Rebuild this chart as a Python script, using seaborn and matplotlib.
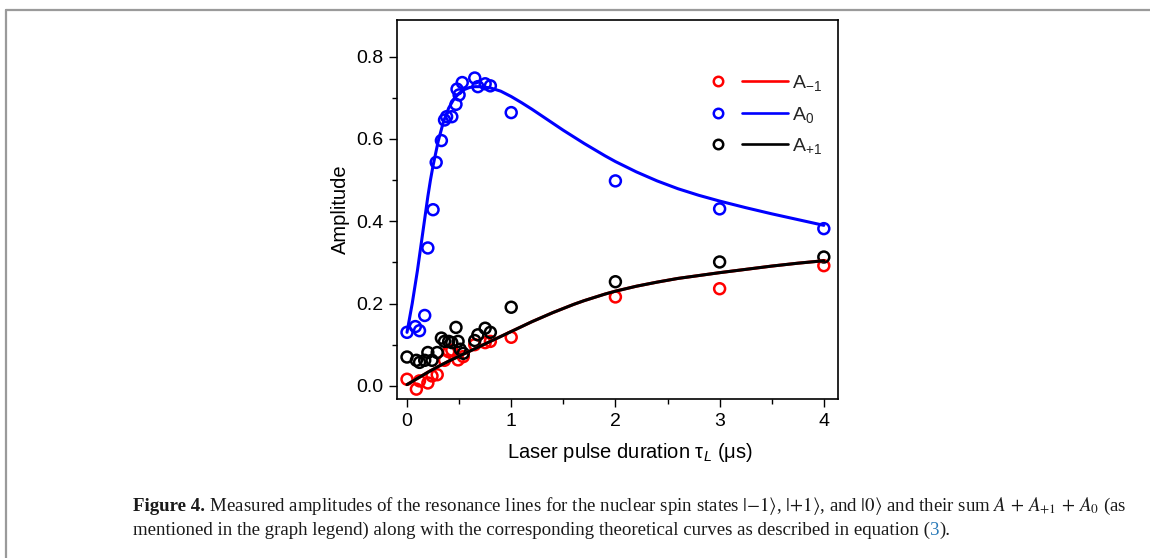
import matplotlib
matplotlib.use("Agg")
import numpy as np
import pandas as pd
import seaborn as sns
import matplotlib.pyplot as plt
from matplotlib.lines import Line2D
from matplotlib.legend_handler import HandlerTuple
from matplotlib.ticker import MultipleLocator

# ---------------- data ----------------
t_m1 = [0.0, 0.09, 0.12, 0.2, 0.24, 0.29, 0.36, 0.4, 0.43, 0.49, 0.54, 0.65, 0.75, 0.8, 1.0, 2.0, 3.0, 4.0]
a_m1 = [0.016, -0.008, 0.012, 0.007, 0.024, 0.027, 0.062, 0.083, 0.087, 0.063, 0.071, 0.100, 0.105, 0.108, 0.118, 0.216, 0.236, 0.292]

t_0 = [0.0, 0.08, 0.12, 0.17, 0.2, 0.25, 0.28, 0.33, 0.36, 0.38, 0.43, 0.47, 0.5, 0.48, 0.53, 0.65, 0.68, 0.75, 0.8, 1.0, 2.0, 3.0, 4.0]
a_0 = [0.130, 0.144, 0.134, 0.171, 0.335, 0.428, 0.543, 0.596, 0.646, 0.654, 0.654, 0.684, 0.707, 0.721, 0.737, 0.748, 0.727, 0.734, 0.729, 0.664, 0.498, 0.430, 0.382]

t_p1 = [0.0, 0.09, 0.12, 0.17, 0.2, 0.24, 0.29, 0.33, 0.36, 0.4, 0.43, 0.47, 0.49, 0.51, 0.54, 0.65, 0.68, 0.75, 0.8, 1.0, 2.0, 3.0, 4.0]
a_p1 = [0.070, 0.062, 0.057, 0.062, 0.081, 0.062, 0.081, 0.116, 0.108, 0.108, 0.105, 0.142, 0.108, 0.089, 0.079, 0.110, 0.124, 0.140, 0.130, 0.191, 0.253, 0.301, 0.313]

# theoretical curves
fit0_t = [0.0, 0.025, 0.05, 0.075, 0.1, 0.125, 0.15, 0.175, 0.2, 0.225, 0.25, 0.3, 0.35, 0.4, 0.45, 0.5,
          0.55, 0.6, 0.65, 0.7, 0.8, 0.9, 1.0, 1.1, 1.2, 1.3, 1.4, 1.5, 1.6, 1.7, 1.8, 1.9, 2.0,
          2.2, 2.4, 2.6, 2.8, 3.0, 3.25, 3.5, 3.75, 4.0]
fit0_a = [0.13, 0.165, 0.20, 0.24, 0.28, 0.325, 0.37, 0.415, 0.46, 0.50, 0.535, 0.595, 0.642, 0.675, 0.697, 0.711,
          0.720, 0.725, 0.727, 0.727, 0.724, 0.716, 0.703, 0.688, 0.672, 0.655, 0.638, 0.621, 0.605, 0.589, 0.574, 0.559, 0.545,
          0.520, 0.498, 0.479, 0.463, 0.449, 0.433, 0.418, 0.404, 0.390]
fit1_t = [0.0, 0.1, 0.2, 0.3, 0.4, 0.5, 0.6, 0.7, 0.8, 0.9, 1.0, 1.1, 1.2, 1.3, 1.4, 1.5, 1.6, 1.7, 1.8, 1.9, 2.0,
          2.2, 2.4, 2.6, 2.8, 3.0, 3.25, 3.5, 3.75, 4.0]
fit1_a = [0.003, 0.018, 0.033, 0.047, 0.060, 0.072, 0.084, 0.096, 0.108, 0.120, 0.132, 0.144, 0.156, 0.167, 0.178, 0.188,
          0.198, 0.207, 0.215, 0.223, 0.230, 0.242, 0.252, 0.261, 0.268, 0.275, 0.283, 0.291, 0.298, 0.304]

x_ticks = [0, 1, 2, 3, 4]
y_ticks = [0.0, 0.2, 0.4, 0.6, 0.8]
labels = [r"$\mathregular{A_{-1}}$", r"$\mathregular{A_{0}}$", r"$\mathregular{A_{+1}}$"]
colors = ["#ff0000", "#0000ff", "#000000"]

# ---------------- style ----------------
sns.set_theme(style="white")
plt.rcParams["font.family"] = ["Liberation Sans", "DejaVu Sans"]
plt.rcParams["mathtext.fontset"] = "custom"
plt.rcParams["mathtext.rm"] = "Liberation Sans"
plt.rcParams["mathtext.it"] = "Liberation Sans:italic"
plt.rcParams["mathtext.bf"] = "Liberation Sans:bold"

W, H = 1150, 558
fig = plt.figure(figsize=(W / 100, H / 100), dpi=100)
ax = fig.add_axes([397 / W, 1 - 399 / H, 441 / W, 379 / H])

df_m1 = pd.DataFrame({"t": t_m1, "a": a_m1})
df_0 = pd.DataFrame({"t": t_0, "a": a_0})
df_p1 = pd.DataFrame({"t": t_p1, "a": a_p1})
fit0 = pd.DataFrame({"t": fit0_t, "a": fit0_a})
fit1 = pd.DataFrame({"t": fit1_t, "a": fit1_a})

ms, mlw, llw = 62, 1.8, 2.2
for df, c in [(df_m1, colors[0]), (df_0, colors[1]), (df_p1, colors[2])]:
    sns.scatterplot(data=df, x="t", y="a", ax=ax, s=ms, facecolor="none",
                    edgecolor=c, linewidth=mlw, zorder=3, legend=False)
sns.lineplot(data=fit0, x="t", y="a", ax=ax, color=colors[1], lw=llw, estimator=None, zorder=4)
sns.lineplot(data=fit1, x="t", y="a", ax=ax, color=colors[0], lw=llw, estimator=None, zorder=4)
sns.lineplot(data=fit1, x="t", y="a", ax=ax, color=colors[2], lw=llw, estimator=None, zorder=5)

ax.set_xlim(-0.096, 4.136)
ax.set_ylim(-0.032, 0.889)
ax.set_xticks(x_ticks)
ax.set_xticklabels([str(v) for v in x_ticks])
ax.set_yticks(y_ticks)
ax.set_yticklabels([f"{v:.1f}" for v in y_ticks])
ax.xaxis.set_minor_locator(MultipleLocator(0.5))
ax.yaxis.set_minor_locator(MultipleLocator(0.1))
ax.tick_params(which="both", direction="out", bottom=True, left=True, top=False, right=False,
               color="black", width=1.0, labelcolor="black", labelsize=14)
ax.tick_params(which="major", length=6, pad=4)
ax.tick_params(which="minor", length=3.5)
for s in ax.spines.values():
    s.set_color("black")
    s.set_linewidth(1.2)
ax.set_xlabel(r"Laser pulse duration $\mathregular{\tau_{\mathit{L}}}$ ($\mathregular{\mu}$s)",
              fontsize=14.5, color="black", va="center")
ax.xaxis.set_label_coords(0.528, -0.142)
ax.set_ylabel("Amplitude", fontsize=14.5, color="black", labelpad=4)

handles = []
for c in colors:
    m = Line2D([], [], ls="none", marker="o", mfc="none", mec=c, mew=1.8, ms=6.8)
    l = Line2D([], [], color=c, lw=1.9)
    handles.append((m, l))
ax.legend(handles, labels, handler_map={tuple: HandlerTuple(ndivide=None, pad=0.05)},
          loc="upper left", bbox_to_anchor=(0.658, 0.881), borderaxespad=0, frameon=False, fontsize=14,
          handlelength=4.8, handletextpad=0.2, labelspacing=0.6)

# frame around the figure panel
fig.add_artist(Line2D([6 / W, 6 / W], [0, 1 - 10 / H], transform=fig.transFigure,
                      color="#9a9a9a", lw=1.6))
fig.add_artist(Line2D([6 / W, 1], [1 - 10 / H, 1 - 10 / H], transform=fig.transFigure,
                      color="#9a9a9a", lw=1.6))

# caption
renderer = fig.canvas.get_renderer()
cap_kw = dict(family=["Liberation Serif", "DejaVu Serif"], fontsize=13.6, math_fontfamily="stix",
              va="baseline", ha="left", color="#1a1a1a")


def put(pieces, x0, ybase):
    x = x0
    for txt, extra in pieces:
        kw = dict(cap_kw)
        kw.update(extra)
        t = fig.text(x / W, 1 - ybase / H, txt, **kw)
        bb = t.get_window_extent(renderer)
        x = bb.x1


line1 = [("Figure 4.", {"weight": "bold"}),
         (r" Measured amplitudes of the resonance lines for the nuclear spin states $|{-1}\rangle$, "
          r"$|{+1}\rangle$, and $|0\rangle$ and their sum $A\,+\,A_{+1}\,+\,A_0$ (as", {})]
line2 = [("mentioned in the graph legend) along with the corresponding theoretical curves as described in equation (", {}),
         ("3", {"color": "#2a7ab8"}),
         (").", {})]
put(line1, 133, 511)
put(line2, 133, 535)

fig.savefig("out.png", dpi=100)
